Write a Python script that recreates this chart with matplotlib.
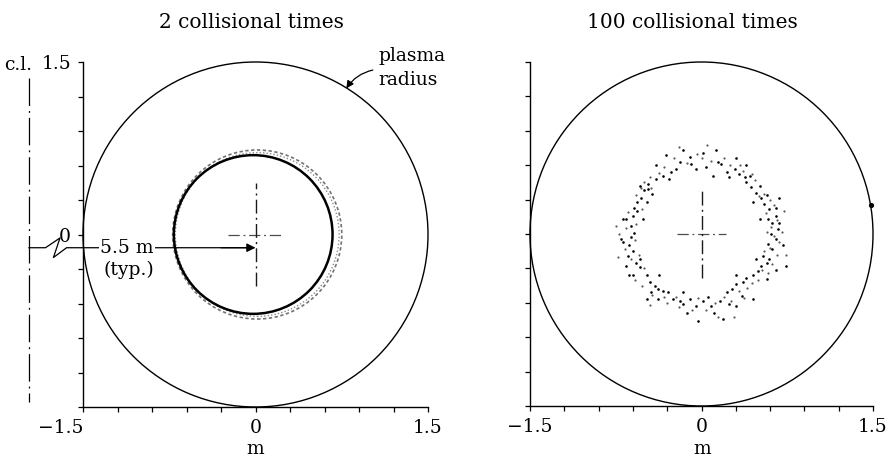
import matplotlib
matplotlib.use("Agg")
import matplotlib.pyplot as plt
from matplotlib.patches import Circle, FancyArrowPatch
from matplotlib.lines import Line2D

# ---------------- data (metres) ----------------
titles = ["2 collisional times", "100 collisional times"]
tick_pos = [-1.5, -1.2, -0.9, -0.6, -0.3, 0.0, 0.3, 0.6, 0.9, 1.2, 1.5]
x_tick_labels = {-1.5: "\u22121.5", 0.0: "0", 1.5: "1.5"}
y_tick_labels = {0.0: "0", 1.5: "1.5"}
plasma_radius = 1.5

# 2 collisional times: particles form a thin ring
ring_solid_radius = 0.69
ring_solid_center = (-0.02, 0.0)
ring_halo_radius = 0.735
ring_halo_center = (0.015, 0.0)
ring_mid_radius = 0.712

# 100 collisional times: scattered particle positions
p100_x = [-0.16, 0.13, 0.30, -0.19, -0.09, -0.05, 0.04, 0.14, 0.17, 0.22,
          -0.27, -0.22, -0.34, -0.40, -0.47, -0.50, -0.43, -0.53, -0.48, -0.59,
          -0.56, -0.60, -0.66, -0.62, -0.59, -0.62, -0.69, -0.63, -0.60, -0.64,
          -0.57, -0.54, -0.63, -0.48, -0.45, -0.41, -0.38, -0.34, -0.44, -0.29,
          -0.25, -0.19, -0.16, -0.10, -0.05, 0.01, 0.06, 0.08, 0.11, 0.19,
          -0.03, 0.16, 0.22, 0.27, 0.30, 0.36, 0.39, 0.45, 0.49, 0.52,
          0.57, 0.59, 0.54, 0.62, 0.58, 0.65, 0.61, 0.67, 0.62, 0.58,
          0.65, 0.59, 0.55, 0.52, 0.57, 0.48, 0.43, 0.39, 0.38, 0.42,
          0.33, 0.29, 0.24, 0.68, 0.71, 0.74, 0.45, 0.30, -0.54, -0.47,
          -0.56, -0.69, -0.70, -0.66, -0.38, -0.13, 0.24, 0.51, 0.65, 0.68,
          0.57, -0.31, 0.01, -0.10, 0.39, -0.40, -0.28, 0.10, -0.51, -0.54,
          -0.37, 0.30, 0.48, 0.51, 0.45, 0.65, 0.35, -0.16, -0.48, -0.60]
p100_y = [0.73, 0.73, 0.66, 0.63, 0.61, 0.57, 0.58, 0.63, 0.61, 0.54,
          0.54, 0.57, 0.51, 0.48, 0.44, 0.38, 0.35, 0.31, 0.28, 0.23,
          0.20, 0.16, 0.13, 0.07, 0.01, -0.03, -0.07, -0.10, -0.15, -0.19,
          -0.25, -0.29, -0.36, -0.36, -0.42, -0.45, -0.48, -0.50, -0.51, -0.51,
          -0.57, -0.58, -0.61, -0.57, -0.63, -0.58, -0.55, -0.63, -0.69, -0.74,
          -0.76, -0.58, -0.51, -0.48, -0.44, -0.42, -0.38, -0.36, -0.32, -0.28,
          -0.25, -0.22, -0.19, -0.13, -0.09, -0.04, 0.00, 0.04, 0.10, 0.13,
          0.16, 0.22, 0.26, 0.31, 0.34, 0.36, 0.41, 0.45, 0.50, 0.51,
          0.52, 0.57, 0.50, 0.31, -0.10, -0.28, -0.57, -0.63, 0.42, 0.39,
          0.28, 0.13, -0.04, -0.28, -0.57, -0.69, -0.61, 0.42, 0.23, 0.10,
          -0.39, 0.69, 0.71, 0.67, 0.60, 0.60, 0.48, 0.51, 0.13, -0.22,
          -0.36, -0.36, -0.22, 0.13, 0.28, -0.31, -0.54, -0.51, -0.57, -0.36]
# fainter particles
p100_faint_x = [0.55, 0.60, 0.50, 0.63, 0.56, 0.66, 0.61, 0.70, 0.57, 0.63,
                0.68, 0.60, 0.55, 0.66, 0.62, 0.53, 0.58, 0.49, 0.44, 0.40,
                0.47, 0.44, 0.36, 0.34, 0.20, 0.25, 0.08, 0.00, -0.04, -0.13,
                -0.24, -0.33, -0.37, -0.45, -0.50, -0.44, -0.53, -0.57, -0.52, -0.64,
                -0.66, -0.57, -0.72, -0.58, -0.67, -0.55, -0.62, -0.50, -0.58, -0.52,
                -0.43, -0.33, -0.30, -0.22, -0.20, -0.08, -0.03, 0.04, 0.12, 0.14,
                0.20, 0.26, 0.33, 0.37, 0.72, 0.74, -0.75, -0.73, 0.05, -0.20,
                0.28, -0.45]
p100_faint_y = [0.35, 0.30, 0.33, 0.25, 0.18, 0.12, 0.06, 0.02, 0.02, -0.02,
                -0.07, -0.12, -0.15, -0.18, -0.26, -0.31, -0.34, -0.40, -0.43, -0.47,
                0.47, 0.52, 0.55, 0.60, 0.66, 0.60, 0.64, 0.66, 0.70, 0.62,
                0.66, 0.58, 0.53, 0.50, 0.45, 0.40, 0.40, 0.34, 0.22, 0.19,
                0.05, 0.09, 0.00, -0.05, -0.13, -0.18, -0.22, -0.30, -0.40, -0.45,
                -0.53, -0.55, -0.60, -0.55, -0.64, -0.66, -0.56, -0.66, -0.60, -0.72,
                -0.55, -0.58, -0.50, -0.56, 0.20, -0.18, 0.07, -0.20, 0.78, 0.76,
                -0.72, -0.62]
edge_x = [1.48]
edge_y = [0.25]

# annotation geometry (metres, left panel)
cl_x = -1.97
dim_y = -0.115

# ---------------- figure ----------------
plt.rcParams["font.family"] = ["DejaVu Serif"]
fig = plt.figure(figsize=(8.9, 4.59), dpi=100)
W, H = 890.0, 459.0
axL = fig.add_axes([83 / W, 1 - 407 / H, 345 / W, 345 / H])
axR = fig.add_axes([530 / W, 1 - 406 / H, 343 / W, 344 / H])

FS = 13.5
FT = 14.5

def style(ax, ylabels):
    ax.set_xlim(-1.5, 1.5)
    ax.set_ylim(-1.5, 1.5)
    for s in ("top", "right"):
        ax.spines[s].set_visible(False)
    for s in ("left", "bottom"):
        ax.spines[s].set_linewidth(1.0)
    ax.set_xticks(tick_pos)
    ax.set_xticklabels([x_tick_labels.get(t, "") for t in tick_pos], fontsize=FS)
    ax.set_yticks(tick_pos)
    ax.set_yticklabels([ylabels.get(t, "") if ylabels else "" for t in tick_pos], fontsize=FS)
    ax.tick_params(direction="out", length=3.5, width=0.9, pad=5)
    ax.set_facecolor("none")

style(axL, y_tick_labels)
style(axR, None)
axL.get_xticklabels()[0].set_horizontalalignment("right")

for ax in (axL, axR):
    ax.add_patch(Circle((0, 0), plasma_radius, fill=False, lw=1.0,
                        ec="black", clip_on=False))

# crosshairs (dash-dot)
def cross(ax, hx, vy):
    ax.plot([-hx, hx], [0, 0], color="0.3", lw=0.9, dashes=(9, 3, 1.5, 3),
            dash_capstyle="butt", clip_on=False)
    ax.plot([0, 0], [-vy, vy], color="0.1", lw=1.0, dashes=(10, 3, 1.5, 3),
            clip_on=False)

cross(axL, 0.24, 0.45)
cross(axR, 0.21, 0.38)

# left ring
axL.add_patch(Circle(ring_halo_center, ring_halo_radius, fill=False, lw=1.2,
                     ec="0.45", ls=(0, (2, 1.5))))
axL.add_patch(Circle(ring_halo_center, ring_mid_radius, fill=False, lw=1.0,
                     ec="0.55", ls=(0, (1, 1.5))))
axL.add_patch(Circle(ring_solid_center, ring_solid_radius, fill=False, lw=1.8,
                     ec="black"))

# right scattered particles
axR.scatter(p100_faint_x, p100_faint_y, s=2.5, c="0.35", linewidths=0)
axR.scatter(p100_x, p100_y, s=3.5, c="black", linewidths=0)
axR.scatter(edge_x, edge_y, s=14, c="black", linewidths=0, clip_on=False)

# centre line (dash-dot)
axL.plot([cl_x, cl_x], [1.365, -1.46], color="black", lw=0.9,
         dashes=(22, 4, 1.5, 4), clip_on=False)

# 5.5 m dimension line with break mark
zig_x = [cl_x, -1.826, -1.70, -1.757, -1.643, -0.05]
zig_y = [dim_y, dim_y, -0.03, -0.20, dim_y, dim_y]
axL.add_line(Line2D(zig_x, zig_y, color="black", lw=0.9, clip_on=False))
axL.add_patch(FancyArrowPatch((-0.3, dim_y), (0.0, dim_y), arrowstyle="-|>",
                              mutation_scale=13, lw=0.9, color="black",
                              shrinkA=0, shrinkB=0, clip_on=False))
axL.text(-1.12, dim_y, "5.5 m", fontsize=FS, ha="center", va="center",
         bbox=dict(facecolor="white", edgecolor="none", pad=1.0), zorder=5)
axL.text(-1.10, -0.31, "(typ.)", fontsize=FS, ha="center", va="center", zorder=5)

# plasma radius annotation
axL.text(1.07, 1.45, "plasma\nradius", fontsize=FS, ha="left", va="center",
         linespacing=1.45)
axL.add_patch(FancyArrowPatch((1.02, 1.43), (0.79, 1.27), arrowstyle="-|>",
                              connectionstyle="arc3,rad=0.2", mutation_scale=11,
                              lw=0.9, color="black", shrinkA=0, shrinkB=0,
                              clip_on=False))

# c.l. label
fig.text(32 / W, 1 - 65 / H, "c.l.", fontsize=FS, ha="right", va="center")

# titles and axis labels
fig.text(251 / W, 1 - 23 / H, titles[0], fontsize=FT, ha="center", va="center")
fig.text(692 / W, 1 - 22 / H, titles[1], fontsize=FT, ha="center", va="center")
fig.text(255 / W, 1 - 449 / H, "m", fontsize=FS, ha="center", va="center")
fig.text(702 / W, 1 - 449 / H, "m", fontsize=FS, ha="center", va="center")

fig.savefig("out.png", dpi=100)
